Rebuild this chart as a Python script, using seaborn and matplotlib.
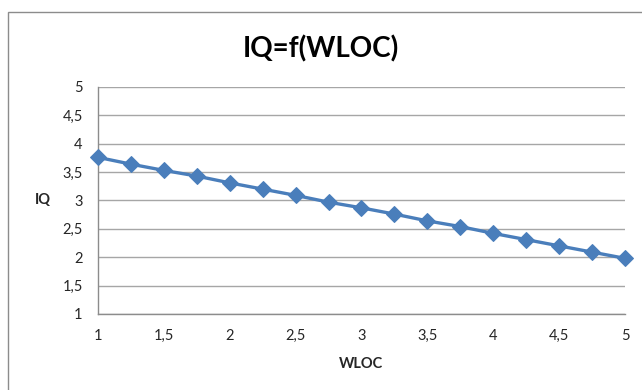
#!/usr/bin/env python3
"""IQ = f(WLOC) line chart, Excel style"""

import matplotlib
matplotlib.use("Agg")
import matplotlib.pyplot as plt
from matplotlib.patches import Rectangle
import pandas as pd
import seaborn as sns

# data
wloc = [1.0, 1.25, 1.5, 1.75, 2.0, 2.25, 2.5, 2.75, 3.0,
        3.25, 3.5, 3.75, 4.0, 4.25, 4.5, 4.75, 5.0]
iq = [3.76, 3.64, 3.53, 3.43, 3.31, 3.20, 3.09, 2.97, 2.87,
      2.76, 2.64, 2.54, 2.42, 2.31, 2.20, 2.09, 1.98]

x_ticks = [1, 1.5, 2, 2.5, 3, 3.5, 4, 4.5, 5]
x_tick_labels = ["1", "1,5", "2", "2,5", "3", "3,5", "4", "4,5", "5"]
y_ticks = [1, 1.5, 2, 2.5, 3, 3.5, 4, 4.5, 5]
y_tick_labels = ["1", "1,5", "2", "2,5", "3", "3,5", "4", "4,5", "5"]

df = pd.DataFrame({"WLOC": wloc, "IQ": iq})

sns.set_theme(style="white")
plt.rcParams["font.family"] = ["Lato", "DejaVu Sans"]

fig = plt.figure(figsize=(6.42, 3.90), dpi=100)
ax = fig.add_axes([0.1526, 0.195, 0.8209, 0.582])

# chart area frame (only left/top visible in the crop)
fig.add_artist(Rectangle((8 / 642, -0.2), 1.2, 1.2 - 12 / 390 + 0.0,
                         transform=fig.transFigure, fill=False,
                         edgecolor="#8c8c8c", linewidth=1.0))

sns.lineplot(data=df, x="WLOC", y="IQ", ax=ax, color="#4a7ebb",
             linewidth=2.4, marker="D", markersize=8,
             markeredgecolor="#4a7ebb", clip_on=False, zorder=3)

ax.set_xlim(1, 5)
ax.set_ylim(1, 5)
ax.set_xticks(x_ticks)
ax.set_xticklabels(x_tick_labels)
ax.set_yticks(y_ticks)
ax.set_yticklabels(y_tick_labels)

ax.yaxis.grid(True, color="#a6a6a6", linewidth=1.0)
ax.xaxis.grid(False)
for side in ["top", "right"]:
    ax.spines[side].set_visible(False)
for side in ["left", "bottom"]:
    ax.spines[side].set_color("#8c8c8c")
    ax.spines[side].set_linewidth(1.0)

ax.tick_params(axis="both", which="major", length=5, width=1.0,
               color="#8c8c8c", labelsize=10.5, labelcolor="#262626",
               direction="out")
ax.tick_params(axis="x", pad=6)
ax.tick_params(axis="y", pad=6)

ax.set_xlabel("WLOC", fontsize=10.5, fontweight="bold", color="#262626",
              labelpad=10)
ax.set_ylabel("IQ", fontsize=10.5, fontweight="bold", color="#262626",
              rotation=0, labelpad=14, va="center")

fig.text(0.5, 0.875, "IQ=f(WLOC)", ha="center", va="center",
         fontsize=20, fontweight="bold", color="#000000")

fig.savefig("out.png", dpi=100, facecolor="white")
plt.close(fig)
